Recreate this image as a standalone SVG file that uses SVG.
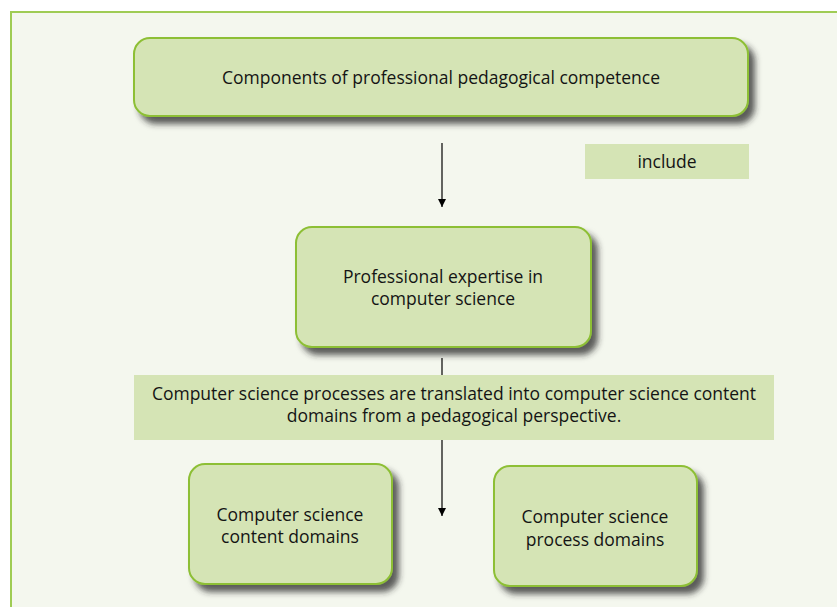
<svg xmlns="http://www.w3.org/2000/svg" width="837" height="607" viewBox="0 0 837 607">
<defs>
<style>
.box{fill:#d5e4b5;stroke:#8dbf35;stroke-width:2}
.lbl{fill:#d5e4b5}
.t{font-family:"Open Sans","Liberation Sans",Arial,sans-serif;font-size:17.5px;fill:#141414;text-anchor:middle}
.c{stroke:#000;stroke-width:1.2;fill:none}
</style>
<filter id="sh" x="-10%" y="-20%" width="130%" height="150%">
<feDropShadow dx="6" dy="7" stdDeviation="3" flood-color="#2a2a2a" flood-opacity="0.75"/>
</filter>
<marker id="ah" viewBox="0 0 10 10" refX="10" refY="5" markerWidth="8" markerHeight="9" markerUnits="userSpaceOnUse" orient="auto">
<path d="M0,0 L10,5 L0,10 z" fill="#000"/>
</marker>
</defs>
<rect x="0" y="0" width="837" height="607" fill="#fff"/>
<rect x="11" y="12" width="840" height="610" fill="#f4f7ee" stroke="#9fcc54" stroke-width="2"/>
<g id="connectors">
<line class="c" x1="442" y1="143" x2="442" y2="207" marker-end="url(#ah)"/>
<line class="c" x1="442" y1="358" x2="442" y2="375"/>
<line class="c" x1="442" y1="440" x2="442" y2="516" marker-end="url(#ah)"/>
</g>
<g id="n1">
<rect class="box" x="134" y="38" width="614" height="78" rx="16" filter="url(#sh)"/>
<text class="t" x="441" y="84">Components of professional pedagogical competence</text>
</g>
<g id="lbl-include">
<rect class="lbl" x="585" y="144" width="164" height="35"/>
<text class="t" x="667" y="168">include</text>
</g>
<g id="n2">
<rect class="box" x="296" y="227" width="295" height="120" rx="16" filter="url(#sh)"/>
<text class="t" x="443" y="283">Professional expertise in</text>
<text class="t" x="443" y="305">computer science</text>
</g>
<g id="lbl-caption">
<rect class="lbl" x="134" y="375" width="640" height="65"/>
<text class="t" x="454" y="400">Computer science processes are translated into computer science content</text>
<text class="t" x="454" y="422">domains from a pedagogical perspective.</text>
</g>
<g id="n3">
<rect class="box" x="189" y="464" width="203" height="120" rx="16" filter="url(#sh)"/>
<text class="t" x="290" y="521">Computer science</text>
<text class="t" x="290" y="543">content domains</text>
</g>
<g id="n4">
<rect class="box" x="494" y="466" width="203" height="120" rx="16" filter="url(#sh)"/>
<text class="t" x="595" y="523">Computer science</text>
<text class="t" x="595" y="546">process domains</text>
</g>
</svg>
